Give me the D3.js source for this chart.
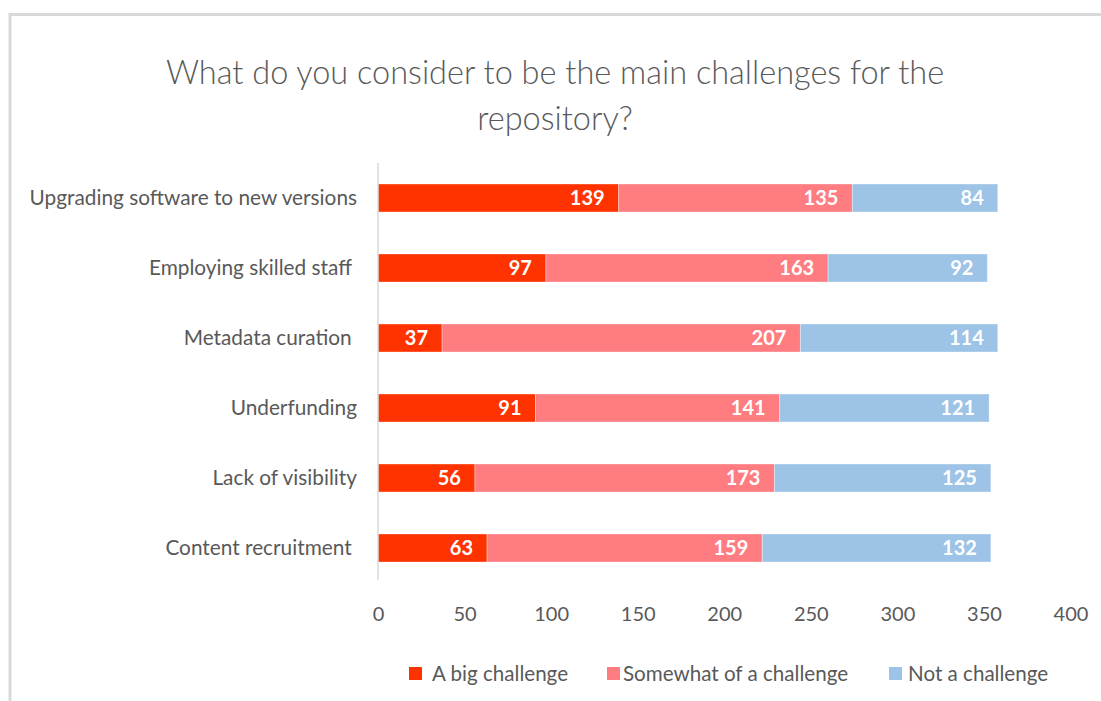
<!DOCTYPE html>
<html>
<head>
<meta charset="utf-8">
<script src="https://cdn.jsdelivr.net/npm/d3@7"></script>
<style>
  html, body { margin: 0; padding: 0; background: #ffffff; }
  svg { display: block; }
  text { font-family: Lato, "Open Sans", sans-serif; }
</style>
</head>
<body>
<svg id="chart" width="1101" height="701"></svg>
<script>
// Survey responses per challenge
const categories = [
  "Upgrading software to new versions",
  "Employing skilled staff ",
  "Metadata curation ",
  "Underfunding",
  "Lack of visibility",
  "Content recruitment "
];
const seriesNames = ["A big challenge", "Somewhat of a challenge", "Not a challenge"];
const bigChallenge = [139, 97, 37, 91, 56, 63];
const somewhatChallenge = [135, 163, 207, 141, 173, 159];
const notChallenge = [84, 92, 114, 121, 125, 132];
const xTicks = [0, 50, 100, 150, 200, 250, 300, 350, 400];
const seriesColors = ["#ff3300", "#ff7c80", "#9dc3e6"];

const rows = categories.map((c, i) => ({
  category: c,
  big: bigChallenge[i],
  somewhat: somewhatChallenge[i],
  not: notChallenge[i]
}));

const svg = d3.select("#chart");

// outer frame (top and left edges)
svg.append("path")
  .attr("d", "M10,701 V14.5 H1101")
  .attr("fill", "none")
  .attr("stroke", "#d9d9d9")
  .attr("stroke-width", 3);

// title
const title = svg.append("text")
  .attr("text-anchor", "middle")
  .attr("fill", "#595959")
  .style("font-weight", 300)
  .style("font-size", "32.5px");
title.append("tspan").attr("x", 555).attr("y", 84)
  .text("What do you consider to be the main challenges for the");
title.append("tspan").attr("x", 555).attr("y", 130)
  .text("repository?");

const x = d3.scaleLinear().domain([0, 400]).range([378, 1070.5]);
const y = d3.scaleBand().domain(categories).range([163, 583]).paddingInner(0.6).paddingOuter(0.3);

const stack = d3.stack().keys(["big", "somewhat", "not"]);
const layers = stack(rows);

const g = svg.append("g");
layers.forEach((layer, k) => {
  g.selectAll(null)
    .data(layer)
    .join("rect")
    .attr("x", d => x(d[0]))
    .attr("y", d => y(d.data.category))
    .attr("width", d => x(d[1]) - x(d[0]))
    .attr("height", y.bandwidth())
    .attr("fill", seriesColors[k])
    .attr("stroke", "#ffffff")
    .attr("stroke-opacity", 0.35)
    .attr("stroke-width", 1);

  g.selectAll(null)
    .data(layer)
    .join("text")
    .attr("x", d => x(d[1]) - 14)
    .attr("y", d => y(d.data.category) + y.bandwidth() / 2)
    .attr("dy", "0.36em")
    .attr("text-anchor", "end")
    .attr("fill", "#ffffff")
    .style("font-weight", 700)
    .style("font-size", "20px")
    .text(d => d[1] - d[0]);
});

// vertical category axis line
svg.append("line")
  .attr("x1", 378).attr("x2", 378)
  .attr("y1", 163).attr("y2", 580)
  .attr("stroke", "#d9d9d9")
  .attr("stroke-width", 1.5);

// category labels
svg.append("g").selectAll("text")
  .data(categories)
  .join("text")
  .attr("x", 357)
  .attr("y", d => y(d) + y.bandwidth() / 2)
  .attr("dy", "0.36em")
  .attr("text-anchor", "end")
  .attr("fill", "#595959")
  .style("font-size", "20.8px")
  .style("white-space", "pre")
  .text(d => d);

// value axis
const xAxis = d3.axisBottom(x).tickValues(xTicks).tickSize(0).tickPadding(0);
const ax = svg.append("g").attr("transform", "translate(0,607)").call(xAxis);
ax.select(".domain").remove();
ax.selectAll("text")
  .attr("fill", "#595959")
  .style("font-size", "20px")
  .style("font-family", "Lato, sans-serif");

// legend
const legendSwatchX = [409, 607, 889];
const legendTextX = [432, 623, 908];
const legend = svg.append("g");
seriesNames.forEach((name, i) => {
  legend.append("rect")
    .attr("x", legendSwatchX[i]).attr("y", 667)
    .attr("width", 13).attr("height", 13)
    .attr("fill", seriesColors[i]);
  legend.append("text")
    .attr("x", legendTextX[i]).attr("y", 674)
    .attr("dy", "0.36em")
    .attr("fill", "#595959")
    .style("font-size", "20.6px")
    .text(name);
});
</script>
</body>
</html>
